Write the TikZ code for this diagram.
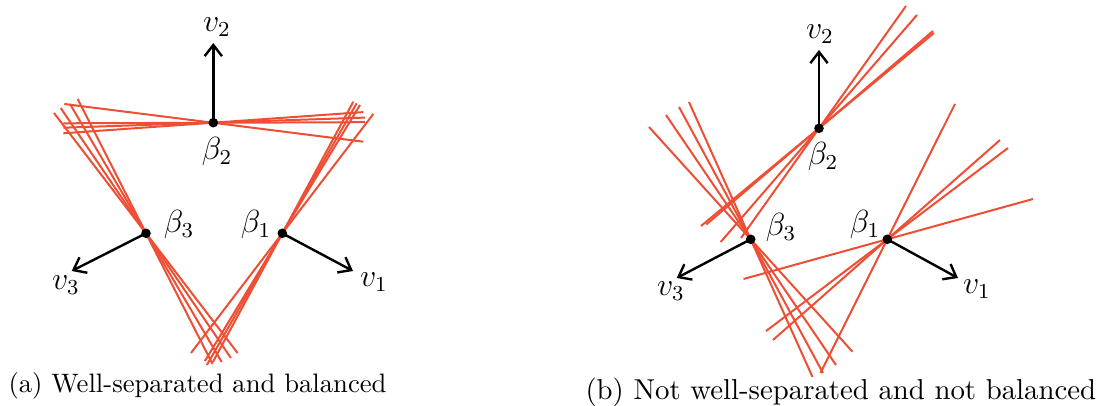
\documentclass[tikz,border=0pt]{standalone}
\usetikzlibrary{arrows.meta}
\definecolor{cutred}{RGB}{238,78,52}
\tikzset{
  redline/.style={draw=cutred, line width=0.75pt},
  vecarrow/.style={draw=black, line width=0.9pt, -{Straight Barb[length=4.2pt,width=6.5pt,line width=0.9pt]}},
  dotnode/.style={circle, fill=black, inner sep=0pt, minimum size=3.6pt},
  lbl/.style={inner sep=0pt, font=\large},
  captext/.style={inner sep=0pt, anchor=base west}
}
\begin{document}
\begin{tikzpicture}[x=0.375pt, y=-0.375pt]
\useasboundingbox (0,0) rectangle (1102,406);
% ---------------- panel (a) ----------------
\coordinate (A1) at (282.3,233.3);
\coordinate (A2) at (213.3,122.7);
\coordinate (A3) at (146,233.3);
% lines through beta2
\draw[redline] (64.3,104) -- (363.3,141.7);
\draw[redline] (63.3,123.3) -- (365,122.2);
\draw[redline] (63.3,127.7) -- (365,117.6);
\draw[redline] (63.3,133.3) -- (363.3,112.1);
% lines through beta3
\draw[redline] (54,113) -- (237.6,353);
\draw[redline] (60.7,108) -- (230.9,358);
\draw[redline] (70,104) -- (221.7,362);
\draw[redline] (77.7,99) -- (212.5,364);
% lines through beta1
\draw[redline] (353.3,101.7) -- (212.9,362);
\draw[redline] (356.7,103.3) -- (206.9,365);
\draw[redline] (360,105) -- (204.9,361);
\draw[redline] (373.3,114) -- (191,353);
% vectors
\coordinate (av1) at (353,271);
\coordinate (av2) at (213.3,43);
\coordinate (av3) at (71.7,271);
\draw[vecarrow] (A1) -- (av1);
\draw[vecarrow] (A2) -- (av2);
\draw[vecarrow] (A3) -- (av3);
\node[dotnode] (a1) at (A1) {};
\node[dotnode] (a2) at (A2) {};
\node[dotnode] (a3) at (A3) {};
\node[lbl] (la1) at (256,225) {$\beta_1$};
\node[lbl] (la2) at (217,152) {$\beta_2$};
\node[lbl] (la3) at (179,225) {$\beta_3$};
\node[lbl] (lv1) at (374,282) {$v_1$};
\node[lbl] (lv2) at (217,27) {$v_2$};
\node[lbl] (lv3) at (66,285) {$v_3$};
\node[captext] (capa) at (8,393) {(a) Well-separated and balanced};
% ---------------- panel (b) ----------------
\coordinate (B1) at (887.3,239.3);
\coordinate (B2) at (819,128.3);
\coordinate (B3) at (750.7,239.3);
% lines through beta2
\draw[redline] (906,6) -- (741,238);
\draw[redline] (917,15) -- (720.7,242);
\draw[redline] (933,31) -- (706.3,224.5);
\draw[redline] (934,33) -- (701,226);
% lines through beta3
\draw[redline] (649,127) -- (852.5,351.7);
\draw[redline] (666,115) -- (836,365);
\draw[redline] (679,107) -- (823,373);
\draw[redline] (689,102) -- (812.5,377);
% lines through beta1
\draw[redline] (955,104) -- (820.4,373);
\draw[redline] (1000,140) -- (773,340);
\draw[redline] (1008,148) -- (766.1,331);
\draw[redline] (1033,199) -- (743.5,279);
% vectors
\coordinate (bv1) at (958,278);
\coordinate (bv2) at (819,50);
\coordinate (bv3) at (676.7,278);
\draw[vecarrow] (B1) -- (bv1);
\draw[vecarrow] (B2) -- (bv2);
\draw[vecarrow] (B3) -- (bv3);
\node[dotnode] (b1) at (B1) {};
\node[dotnode] (b2) at (B2) {};
\node[dotnode] (b3) at (B3) {};
\node[lbl] (lb1) at (865,225) {$\beta_1$};
\node[lbl] (lb2) at (823,157) {$\beta_2$};
\node[lbl] (lb3) at (781,228) {$\beta_3$};
\node[lbl] (lw1) at (977,289) {$v_1$};
\node[lbl] (lw2) at (820,34) {$v_2$};
\node[lbl] (lw3) at (671,291) {$v_3$};
\node[captext, font=\fontsize{10.8pt}{13pt}\selectfont] (capb) at (585,400) {(b) Not well-separated and not balanced};
\end{tikzpicture}
\end{document}
